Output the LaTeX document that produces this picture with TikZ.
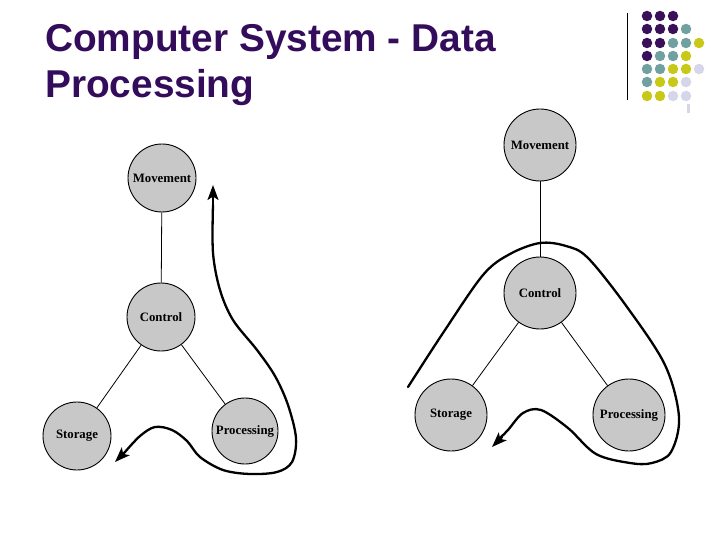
\documentclass[tikz,border=0pt]{standalone}
\usepackage{fontspec}
\setmainfont{Liberation Serif}
\newfontfamily\titlefont{Liberation Sans}
\usetikzlibrary{arrows.meta}
\definecolor{ttlpurple}{RGB}{52,12,92}
\definecolor{dotpurple}{RGB}{58,16,90}
\definecolor{dotteal}{RGB}{112,160,160}
\definecolor{dotyellow}{RGB}{200,200,24}
\definecolor{dotlav}{RGB}{214,214,234}
\definecolor{circgray}{RGB}{200,200,200}
\begin{document}
\begin{tikzpicture}[x=1pt,y=-1pt,
  unit/.style={circle,draw=black,line width=0.9pt,fill=circgray,inner sep=0pt,
    font=\fontsize{12.8}{14}\selectfont\bfseries},
  small/.style={unit,minimum size=68pt},
  big/.style={unit,minimum size=72pt},
  link/.style={line width=0.8pt},
  flow/.style={line width=2.3pt,line cap=round,line join=round},
  tip/.style={-{Stealth[length=15pt,width=11pt,inset=3.5pt]}},
  dot/.style={circle,inner sep=0pt,minimum size=10.5pt}
]
\useasboundingbox (0,0) rectangle (720,540);
\fill[white] (0,0) rectangle (720,540);

% title
\node[anchor=base west,inner sep=0pt,text=ttlpurple,font=\titlefont\fontsize{38.8}{46}\selectfont\bfseries] (t1) at (45,52) {Computer System - Data};
\node[anchor=base west,inner sep=0pt,text=ttlpurple,font=\titlefont\fontsize{38.8}{46}\selectfont\bfseries] (t2) at (45,98) {Processing};

% decoration
\draw[line width=1pt] (627,13) -- (627,100);
\foreach \x/\y/\c in {
 647/16/dotpurple,660/16/dotpurple,673/16/dotpurple,
 647/29/dotpurple,660/29/dotpurple,673/29/dotpurple,686/29/dotteal,
 647/43/dotpurple,660/43/dotpurple,673/43/dotteal,686/43/dotteal,699/43/dotyellow,
 647/56/dotpurple,660/56/dotteal,673/56/dotteal,686/56/dotyellow,
 647/69/dotteal,660/69/dotteal,673/69/dotyellow,686/69/dotyellow,699/69/dotlav,
 647/82/dotteal,660/82/dotyellow,673/82/dotyellow,686/82/dotlav,
 647/96/dotyellow,660/96/dotyellow,673/96/dotlav,686/96/dotlav}
 \node[dot,fill=\c] at (\x,\y) {};
\fill[dotlav] (687,104) rectangle (690,113);

% left diagram
\node[small] (mL) at (162,178) {Movement};
\node[small] (cL) at (161,317) {Control};
\node[small] (sL) at (77,436) {Storage};
\node[small,minimum size=66pt] (pL) at (245,431) {Processing};
\draw[link] (mL) -- (cL);
\draw[link] (cL) -- (sL);
\draw[link] (cL) -- (pL);
\coordinate (aL) at (213,185);
\coordinate (bL) at (115,462);
\draw[flow,tip] plot[smooth,tension=0.55] coordinates {
 (213,205) (213,253) (220,290) (233,320) (257,350) (275,376) (288,405)
 (296,438) (292,462) (277,472) (250,474) (223,470) (200,457) (187,441)
 (172,430) (155,427) (140,436) (125,452)} -- (bL);
\draw[flow,tip] (213,210) -- (aL);

% right diagram
\node[big] (mR) at (540,145) {Movement};
\node[big] (cR) at (540,293) {Control};
\node[big] (sR) at (451,415) {Storage};
\node[big] (pR) at (629,415) {Processing};
\draw[link] (mR) -- (cR);
\draw[link] (cR) -- (sR);
\draw[link] (cR) -- (pR);
\coordinate (aR) at (408,387);
\coordinate (bR) at (492,447);
\draw[flow] plot[smooth,tension=0.55] coordinates {
 (408,387) (443,333) (483,275) (510,254) (540,243) (566,246) (588,258)
 (627,307) (665,365) (679,417) (671,452) (652,463) (630,463) (596,454)
 (568,428) (541,410) (523,413) (508,430) (500,438)};
\draw[flow,tip] (502,437) -- (bR);
\end{tikzpicture}
\end{document}
